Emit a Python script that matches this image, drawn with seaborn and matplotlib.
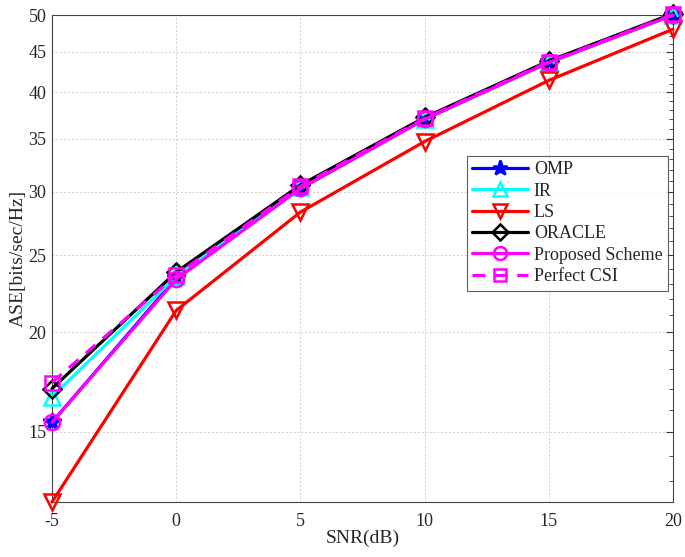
import numpy as np
import pandas as pd
import matplotlib
matplotlib.use("Agg")
import matplotlib.pyplot as plt
import seaborn as sns
from matplotlib.ticker import FixedLocator, NullFormatter

# --- DATA ---
snr = [-5, 0, 5, 10, 15, 20]
omp = [15.42, 23.4, 30.3, 37.0, 43.6, 50.0]
ir = [16.6, 23.5, 30.4, 37.0, 43.6, 50.0]
ls = [12.25, 21.3, 28.3, 34.7, 41.4, 48.0]
oracle = [17.0, 23.8, 30.6, 37.2, 43.8, 50.2]
proposed = [15.42, 23.3, 30.3, 37.0, 43.6, 50.0]
perfect = [17.3, 23.6, 30.5, 37.1, 43.7, 50.1]

series_names = ["OMP", "IR", "LS", "ORACLE", "Proposed Scheme", "Perfect CSI"]
series_vals = [omp, ir, ls, oracle, proposed, perfect]
y_ticks = [15, 20, 25, 30, 35, 40, 45, 50]
x_ticks = [-5, 0, 5, 10, 15, 20]

# --- STYLE ---
sns.set_style("white")
plt.rcParams['font.family'] = ['Liberation Serif', 'DejaVu Serif']

styles = {
    "OMP": dict(color=(0, 0, 1), marker="*", ls="-", ms=13, fill=True),
    "IR": dict(color=(0, 1, 1), marker="^", ls="-", ms=12, fill=False),
    "LS": dict(color=(1, 0, 0), marker="v", ls="-", ms=12, fill=False),
    "ORACLE": dict(color=(0, 0, 0), marker="D", ls="-", ms=9, fill=False),
    "Proposed Scheme": dict(color=(1, 0, 1), marker="o", ls="-", ms=11, fill=False),
    "Perfect CSI": dict(color=(1, 0, 1), marker="s", ls=(0, (4, 3)), ms=10, fill=False),
}

fig = plt.figure(figsize=(6.85, 5.57), dpi=100)
ax = fig.add_axes([0.0759, 0.0987, 0.9066, 0.8743])

for name, vals in zip(series_names, series_vals):
    st = styles[name]
    df = pd.DataFrame({"SNR": snr, "ASE": vals})
    sns.lineplot(
        data=df, x="SNR", y="ASE", ax=ax,
        color=st["color"], linestyle=st["ls"], linewidth=2.3,
        marker=st["marker"], markersize=st["ms"],
        markerfacecolor=st["color"] if st["fill"] else "none",
        markeredgecolor=st["color"], markeredgewidth=1.8,
        label=name, clip_on=False, zorder=3,
    )

ax.set_yscale("log")
ax.set_xlim(-5, 20)
ax.set_ylim(12.25, 50)
ax.yaxis.set_major_locator(FixedLocator(y_ticks))
ax.set_yticklabels([str(t) for t in y_ticks])
ax.yaxis.set_minor_locator(FixedLocator(list(range(13, 50))))
ax.yaxis.set_minor_formatter(NullFormatter())
ax.set_xticks(x_ticks)
ax.set_xticklabels([str(t) for t in x_ticks])

ax.tick_params(axis="both", which="major", direction="in", length=5,
               labelsize=13, color="#333333", top=False, right=True)
ax.tick_params(axis="y", which="minor", direction="in", length=3,
               color="#333333", right=True)
ax.tick_params(axis="x", pad=8)
ax.tick_params(axis="y", pad=4)
ax.grid(True, which="major", linestyle=(0, (2, 2)), color="#d0d0d0", linewidth=0.7)
for sp in ax.spines.values():
    sp.set_color("#444444")
    sp.set_linewidth(0.8)

ax.set_xlabel("SNR(dB)", fontsize=14, labelpad=0)
ax.set_ylabel("ASE[bits/sec/Hz]", fontsize=14, labelpad=1)

leg = ax.legend(loc="upper right", bbox_to_anchor=(0.992, 0.7105), borderaxespad=0,
                fontsize=13, frameon=True, fancybox=False, edgecolor="#333333",
                handlelength=3.1, handletextpad=0.3, labelspacing=0.24,
                borderpad=0.3, markerscale=0.85)
leg.get_frame().set_linewidth(0.8)
leg.set_zorder(5)

fig.savefig("out.png", dpi=100)
